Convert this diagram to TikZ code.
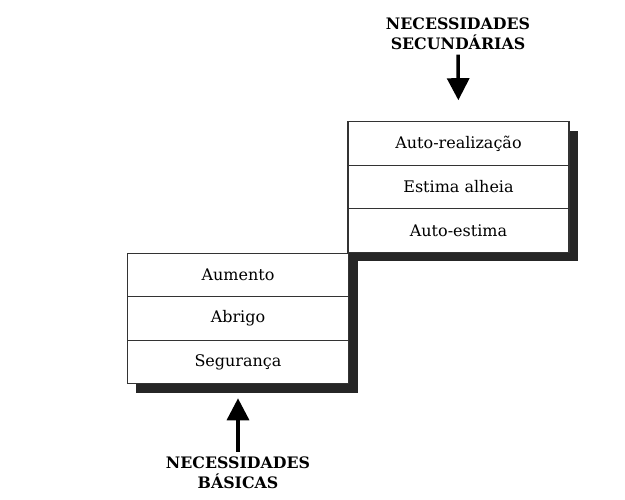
\documentclass[tikz,border=0pt]{standalone}
\usepackage{fontspec}
\setmainfont{DejaVu Serif}
\usetikzlibrary{arrows.meta}
\begin{document}
\begin{tikzpicture}[x=1pt,y=-1pt,
 row/.style={draw=black!80,line width=1.1pt,fill=white,minimum width=221pt,minimum height=43.5pt,inner sep=0pt,font=\fontsize{16}{18}\selectfont,anchor=center},
 shadowfill/.style={fill=black!85},
 lbl/.style={align=center,inner sep=1pt,font=\bfseries\fontsize{15.8}{20}\selectfont},
 bigarrow/.style={line width=3.5pt,-{Triangle[width=22pt,length=22pt]}}]
\useasboundingbox[fill=white] (0,0) rectangle (625,500);
\fill[shadowfill] (357,131) rectangle (578,261);
\fill[shadowfill] (349,252) rectangle (358,262);
\fill[shadowfill] (136,262) rectangle (358,393);
\node[row] (u1) at (458.5,143.5) {Auto-realização};
\node[row] (u2) at (458.5,187) {Estima alheia};
\node[row] (u3) at (458.5,230.5) {Auto-estima};
\node[row] (l1) at (238,275) {Aumento};
\node[row] (l2) at (238,318.5) {Abrigo};
\node[row] (l3) at (238,362) {Segurança};
\node[lbl] (toplbl) at (458,33.5) {NECESSIDADES\\SECUNDÁRIAS};
\node[lbl] (botlbl) at (238,473) {NECESSIDADES\\BÁSICAS};
\draw[bigarrow,shorten <=4pt,shorten >=21pt] (toplbl.south) -- (u1.north);
\draw[bigarrow,shorten <=4pt,shorten >=14pt] (botlbl.north) -- (l3.south);
\end{tikzpicture}
\end{document}
